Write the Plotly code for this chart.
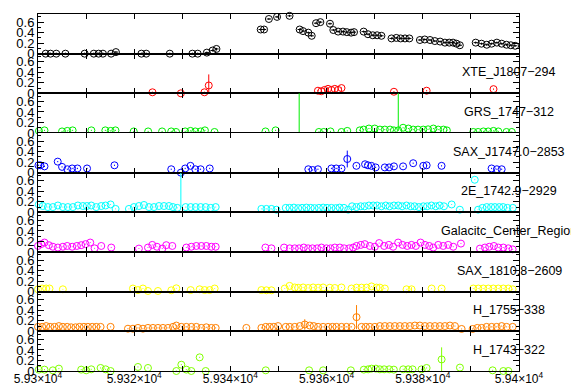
import plotly.graph_objects as go
from plotly.subplots import make_subplots

NAMES = ["", "XTE_J1807−294", "GRS_1747−312", "SAX_J1747.0−2853", "2E_1742.9−2929",
         "Galacitc_Center_Region", "SAX_1810.8−2609", "H_1755−338", "H_1743−322"]
COLORS = ["#000000", "#ff0000", "#00ee00", "#0000ff", "#00ffff",
          "#ff00ff", "#ffff00", "#ff8000", "#80ff00"]

X_TICKS = [59300, 59320, 59340, 59360, 59380, 59400]
X_LABELS = ["5.93×10<sup>4</sup>", "5.932×10<sup>4</sup>", "5.934×10<sup>4</sup>",
            "5.936×10<sup>4</sup>", "5.938×10<sup>4</sup>", "5.94×10<sup>4</sup>"]

# ---------------- series 1 (black)
BLACK_X = [59301.6, 59302.6, 59303.8, 59305.7, 59309.7, 59311.6, 59312.6, 59313.5, 59315.2, 59316.2,
           59321.5, 59322.5, 59327.4, 59332.1, 59333.2, 59335.1, 59336.3, 59337.1,
           59346.3, 59347.0, 59348.0, 59349.7, 59352.3,
           59354.4, 59355.1, 59356.2, 59356.9, 59357.8, 59358.7, 59360.7,
           59361.4, 59362.4, 59363.4, 59364.2, 59365.1, 59365.7,
           59367.7, 59368.6, 59369.6, 59370.5, 59371.4,
           59373.5, 59374.5, 59375.4, 59376.3, 59377.2,
           59379.4, 59380.4, 59381.5, 59382.5, 59383.6, 59384.6, 59385.5, 59386.3, 59387.0, 59387.7,
           59391.0, 59392.2, 59393.3, 59394.3, 59395.4, 59396.4, 59397.4, 59398.3, 59399.2]
BLACK_Y = [0.0, 0.0, 0.0, 0.0, 0.0, 0.0, 0.0, 0.0, 0.0, 0.03,
           0.0, 0.0, 0.0, 0.0, 0.0, 0.02, 0.06, 0.09,
           0.46, 0.46, 0.66, 0.70, 0.72,
           0.46, 0.43, 0.40, 0.34, 0.58, 0.60, 0.57,
           0.45, 0.42, 0.42, 0.41, 0.40, 0.41,
           0.42, 0.37, 0.35, 0.35, 0.34,
           0.29, 0.30, 0.29, 0.29, 0.29,
           0.26, 0.27, 0.26, 0.24, 0.23, 0.21, 0.21, 0.21, 0.19, 0.16,
           0.21, 0.19, 0.17, 0.19, 0.21, 0.19, 0.17, 0.16, 0.15]

# ---------------- series 2 (red)
RED_X = [59323.8, 59329.7, 59334.6, 59358.2, 59358.9, 59359.6, 59360.3, 59361.0, 59361.7,
         59362.4, 59363.1, 59374.0, 59380.8, 59394.7]
RED_Y = [0.02, 0.0, 0.02, 0.05, 0.04, 0.065, 0.085, 0.065, 0.085, 0.065, 0.10, 0.03, 0.05, 0.08]
RED_BIG_X = [59335.5]
RED_BIG_Y = [0.15]
RED_BIG_E = [0.21]

# ---------------- series 3 (green)
GREEN_X = [59300.2, 59301.35, 59305.0, 59306.1, 59307.2, 59311.1, 59314.0, 59315.1, 59316.1, 59319.9,
           59322.9, 59325.8, 59327.7, 59328.7, 59330.6, 59331.7, 59332.7, 59333.8, 59334.7, 59336.7,
           59347.3, 59349.4,
           59358.4, 59359.4, 59360.8, 59363.1, 59364.3, 59366.9, 59367.7, 59368.8, 59370.0, 59371.1,
           59372.1, 59373.2, 59374.0, 59374.9, 59375.9, 59377.0, 59378.0, 59379.0, 59380.1, 59381.1,
           59382.2, 59383.2, 59384.3, 59385.0,
           59390.5, 59391.5, 59392.6, 59393.6, 59394.7, 59395.7, 59397.4, 59398.5]
GREEN_Y = [0.04, 0.05, 0.03, 0.04, 0.05, 0.05, 0.05, 0.04, 0.05, 0.03,
           0.03, 0.03, 0.03, 0.02, 0.03, 0.04, 0.03, 0.03, 0.05, 0.02,
           0.03, 0.05,
           0.02, 0.02, 0.03, 0.02, 0.04, 0.05, 0.065, 0.085, 0.085, 0.065,
           0.065, 0.065, 0.05, 0.05, 0.10, 0.085, 0.065, 0.065, 0.065, 0.07,
           0.085, 0.065, 0.065, 0.05,
           0.02, 0.02, 0.03, 0.03, 0.04, 0.03, 0.02, 0.02]
GREEN_BIG_X = [59354.3, 59374.9]
GREEN_BIG_Y = [0.9, 0.9]
GREEN_BIG_E = [0.9, 0.85]

# ---------------- series 4 (blue)
BLUE_X = [59300.1, 59300.5, 59301.35, 59304.1, 59305.0, 59306.1, 59307.1, 59308.2, 59310.2, 59315.9,
          59327.7, 59329.7, 59330.6, 59331.7, 59332.7, 59333.8, 59335.7,
          59356.2, 59357.1, 59358.2, 59361.0, 59362.0, 59363.1, 59366.2, 59368.0, 59368.6, 59369.3,
          59370.2, 59372.1, 59373.0, 59374.0, 59375.9, 59378.0, 59380.1, 59380.8, 59383.9,
          59394.3, 59395.4, 59396.4]
BLUE_Y = [0.14, 0.14, 0.12, 0.21, 0.11, 0.065, 0.08, 0.08, 0.08, 0.14,
          0.065, 0.0, 0.08, 0.13, 0.065, 0.065, 0.08,
          0.065, 0.05, 0.065, 0.08, 0.08, 0.08, 0.13, 0.16, 0.14, 0.13,
          0.10, 0.10, 0.10, 0.12, 0.12, 0.18, 0.13, 0.14, 0.13,
          0.08, 0.065, 0.065]
BLUE_BIG_X = [59364.3]
BLUE_BIG_Y = [0.26]
BLUE_BIG_E = [0.16]

# ---------------- series 5 (cyan)
CYAN_X = [59300.17, 59301.0, 59302.05, 59303.09, 59304.13, 59305.17, 59306.21, 59307.25, 59308.29, 59309.33,
          59310.16, 59311.07, 59312.11, 59313.15, 59314.05, 59315.09, 59316.13, 59318.9, 59319.94, 59320.98,
          59322.03, 59323.07, 59324.11, 59325.15, 59326.19, 59327.23, 59328.06, 59328.96, 59330.7, 59331.74,
          59332.78, 59333.82, 59334.86, 59335.9, 59336.94, 59346.45, 59347.49, 59348.53, 59349.57, 59351.51,
          59352.3, 59353.2, 59354.1, 59354.9, 59355.8, 59356.7, 59357.5, 59358.4, 59359.3, 59360.1,
          59361.0, 59361.9, 59362.7, 59363.6, 59364.5, 59365.3, 59366.2, 59367.1, 59367.9, 59368.8,
          59369.7, 59370.5, 59371.4, 59372.3, 59373.1, 59374.0, 59374.9, 59375.7, 59376.6, 59377.5,
          59378.3, 59379.2, 59380.1, 59380.9, 59381.8, 59382.7, 59383.5, 59384.4,
          59386.0, 59387.7, 59390.8, 59391.5, 59392.4, 59393.3, 59394.2, 59395.0, 59395.9, 59396.7,
          59397.6, 59398.7]
CYAN_Y = [0.15, 0.12, 0.10, 0.10, 0.13, 0.10, 0.10, 0.10, 0.13, 0.12,
          0.12, 0.13, 0.10, 0.12, 0.13, 0.15, 0.065, 0.065, 0.10, 0.12,
          0.14, 0.10, 0.10, 0.12, 0.12, 0.12, 0.10, 0.085, 0.10, 0.10,
          0.10, 0.10, 0.10, 0.085, 0.10, 0.065, 0.065, 0.065, 0.05, 0.085,
          0.085, 0.09, 0.08, 0.085, 0.09, 0.085, 0.08, 0.085, 0.09, 0.085,
          0.085, 0.08, 0.09, 0.085, 0.05, 0.115, 0.10, 0.115, 0.115, 0.13,
          0.13, 0.13, 0.115, 0.13, 0.115, 0.13, 0.13, 0.115, 0.13, 0.115,
          0.115, 0.10, 0.115, 0.115, 0.13, 0.115, 0.13, 0.115,
          0.15, 0.05, 0.62, 0.05, 0.085, 0.10, 0.10, 0.10, 0.10, 0.10,
          0.085, 0.085]
CYAN_BIG_X = [59329.7]
CYAN_BIG_Y = [0.9]
CYAN_BIG_E = [0.81]

# ---------------- series 6 (magenta)
MAG_X = [59300.0, 59300.66, 59301.35, 59302.25, 59303.09, 59304.13, 59305.17, 59306.07, 59307.11, 59308.08,
         59308.98, 59309.89, 59310.86, 59311.76, 59313.15, 59315.23, 59320.98, 59322.86, 59323.76, 59324.73,
         59325.84, 59326.67, 59327.92, 59329.8, 59330.84, 59331.88, 59332.92, 59333.96, 59335.0, 59336.04,
         59336.94, 59347.28, 59348.53, 59351.16,
         59352.34, 59353.38, 59354.28, 59355.25, 59356.16, 59357.06, 59358.03, 59358.93, 59359.97, 59360.80,
         59361.71, 59362.75, 59363.65, 59364.69, 59365.52, 59366.22, 59367.12, 59367.95, 59368.99, 59370.03,
         59370.93, 59371.97, 59372.94, 59373.84, 59374.88, 59375.79, 59376.76, 59377.66, 59378.56, 59379.53,
         59380.44, 59381.34, 59382.17, 59383.21, 59384.25, 59385.29, 59386.33, 59387.93,
         59391.88, 59392.92, 59393.82, 59394.79, 59395.70, 59396.74, 59397.78, 59398.68]
MAG_Y = [0.115, 0.15, 0.18, 0.13, 0.10, 0.085, 0.10, 0.115, 0.10, 0.115,
         0.13, 0.15, 0.18, 0.07, 0.115, 0.085, 0.065, 0.085, 0.135, 0.10,
         0.065, 0.13, 0.115, -0.01, 0.085, 0.10, 0.115, 0.115, 0.115, 0.10,
         0.10, 0.085, 0.07, 0.085,
         0.07, 0.07, 0.07, 0.085, 0.07, 0.07, 0.07, 0.085, 0.07, 0.07,
         0.085, 0.085, 0.07, 0.07, 0.085, 0.115, 0.135, 0.15, 0.115, 0.10,
         0.17, 0.115, 0.135, 0.10, 0.18, 0.135, 0.115, 0.135, 0.115, 0.18,
         0.135, 0.115, 0.085, 0.135, 0.115, 0.135, 0.10, 0.16,
         0.065, 0.085, 0.10, 0.115, 0.085, 0.085, 0.07, 0.05]

# ---------------- series 7 (yellow)
YEL_X = [59300.0, 59300.87, 59301.7, 59302.39, 59305.17, 59319.74, 59320.78, 59321.82, 59322.86, 59324.94,
         59327.72, 59328.76, 59331.74, 59333.61, 59334.65, 59335.69, 59336.73, 59346.45, 59347.49, 59348.53,
         59351.3, 59352.3,
         59353.38, 59354.08, 59355.12, 59356.16, 59357.20, 59358.24, 59359.28, 59360.67, 59361.71, 59363.09,
         59365.18, 59366.22, 59367.26, 59368.30, 59369.34, 59370.38, 59371.07, 59372.11,
         59376.62, 59381.83, 59383.91,
         59390.50, 59391.54, 59392.58, 59393.62, 59394.66, 59395.70, 59396.74, 59397.78, 59398.68]
YEL_Y = [0.045, 0.06, 0.06, 0.06, 0.045, 0.06, 0.03, 0.06, 0.013, 0.013,
         0.026, 0.064, 0.03, 0.045, 0.03, 0.03, 0.06, 0.03, 0.026, 0.026,
         0.06, 0.11,
         0.08, 0.075, 0.08, 0.07, 0.08, 0.075, 0.08, 0.075, 0.07, 0.08,
         0.06, 0.077, 0.077, 0.077, 0.10, 0.077, 0.077, 0.06,
         0.045, 0.06, 0.06,
         0.06, 0.06, 0.06, 0.06, 0.06, 0.06, 0.06, 0.06, 0.045]
YEL_BIG_X = [59377.66]
YEL_BIG_Y = [0.045]
YEL_BIG_E = [0.04]

# ---------------- series 8 (orange)
ORA_X = [59300.0, 59300.87, 59301.7, 59302.53, 59303.43, 59304.34, 59305.17, 59306.07, 59306.9, 59307.8,
         59308.64, 59309.54, 59310.37, 59311.27, 59312.11, 59313.01, 59315.09, 59318.7, 59319.74, 59320.78,
         59321.82, 59322.86, 59323.9, 59324.94, 59325.98, 59327.02, 59328.06, 59328.76, 59329.8, 59330.84,
         59331.88, 59332.92, 59333.96, 59335.0, 59336.04, 59336.94, 59343.32, 59346.45, 59347.35, 59348.18,
         59349.01, 59349.91, 59351.51,
         59352.34, 59353.38, 59354.42, 59356.50, 59357.33, 59358.24, 59359.28, 59360.32, 59361.22, 59362.06,
         59363.09, 59364.13, 59365.18, 59367.26, 59368.16, 59368.99, 59370.03, 59371.07, 59372.11, 59373.15,
         59374.19, 59375.23, 59376.27, 59377.31, 59378.35, 59379.39, 59380.44, 59381.48, 59382.52, 59383.56,
         59384.60, 59385.64, 59386.68, 59388.07, 59390.36, 59391.33, 59392.23, 59393.27, 59394.31, 59395.35,
         59396.39, 59397.43, 59398.68]
ORA_Y = [0.085, 0.085, 0.10, 0.085, 0.085, 0.10, 0.085, 0.085, 0.077, 0.077,
         0.085, 0.085, 0.085, 0.085, 0.085, 0.085, 0.085, 0.05, 0.05, 0.065,
         0.05, 0.065, 0.065, 0.065, 0.065, 0.065, 0.085, 0.11, 0.085, 0.085,
         0.085, 0.085, 0.065, 0.077, 0.065, 0.065, 0.065, 0.065, 0.085, 0.085,
         0.085, 0.10, 0.085,
         0.085, 0.085, 0.10, 0.11, 0.10, 0.085, 0.085, 0.085, 0.085, 0.085,
         0.085, 0.085, 0.085, 0.085, 0.085, 0.085, 0.085, 0.10, 0.10, 0.10,
         0.10, 0.10, 0.10, 0.10, 0.11, 0.11, 0.10, 0.10, 0.10, 0.10,
         0.10, 0.11, 0.10, 0.045, 0.045, 0.065, 0.065, 0.085, 0.085, 0.085,
         0.10, 0.085, 0.085]
ORA_BIG_X = [59355.46, 59366.22]
ORA_BIG_Y = [0.13, 0.27]
ORA_BIG_E = [0.10, 0.23]

# ---------------- series 9 (chartreuse)
CHA_X = [59300.17, 59301.35, 59303.09, 59304.34, 59308.98, 59310.02, 59311.07, 59313.01, 59314.05, 59315.09,
         59320.78, 59322.86, 59328.76, 59329.8, 59330.84, 59331.88, 59333.61, 59334.86, 59347.35,
         59356.37, 59359.28, 59365.04, 59367.74, 59368.64, 59369.34, 59370.24, 59371.07, 59371.97, 59373.01,
         59373.98, 59375.93, 59376.97, 59377.87, 59379.74, 59380.79, 59387.72, 59394.52, 59396.74, 59397.78]
CHA_Y = [0.026, 0.026, 0.013, 0.045, 0.026, 0.013, 0.032, 0.058, 0.032, 0.0,
         0.077, 0.058, 0.0, 0.12, 0.026, 0.0, 0.26, 0.0, 0.013,
         0.013, 0.013, 0.013, 0.026, 0.032, 0.045, 0.045, 0.032, 0.032, 0.032,
         0.026, 0.032, 0.032, 0.032, 0.032, 0.058, 0.065, 0.013, 0.0, 0.0]
CHA_BIG_X = [59383.91]
CHA_BIG_Y = [0.22]
CHA_BIG_E = [0.23]

SERIES = [
    (BLACK_X, BLACK_Y, [], [], []),
    (RED_X, RED_Y, RED_BIG_X, RED_BIG_Y, RED_BIG_E),
    (GREEN_X, GREEN_Y, GREEN_BIG_X, GREEN_BIG_Y, GREEN_BIG_E),
    (BLUE_X, BLUE_Y, BLUE_BIG_X, BLUE_BIG_Y, BLUE_BIG_E),
    (CYAN_X, CYAN_Y, CYAN_BIG_X, CYAN_BIG_Y, CYAN_BIG_E),
    (MAG_X, MAG_Y, [], [], []),
    (YEL_X, YEL_Y, YEL_BIG_X, YEL_BIG_Y, YEL_BIG_E),
    (ORA_X, ORA_Y, ORA_BIG_X, ORA_BIG_Y, ORA_BIG_E),
    (CHA_X, CHA_Y, CHA_BIG_X, CHA_BIG_Y, CHA_BIG_E),
]
SMALL_ERR = [0.02, 0.012, 0.01, 0.012, 0.008, 0.008, 0.008, 0.01, 0.01]

FONT = "Liberation Sans"
N = len(SERIES)
fig = make_subplots(rows=N, cols=1, shared_xaxes=True, vertical_spacing=0)

for i, (xs, ys, bx, by, be) in enumerate(SERIES):
    c = COLORS[i]
    kw = {}
    if i == 0:
        kw["error_x"] = dict(type="constant", value=0.45, color=c, thickness=1, width=0)
    fig.add_trace(go.Scatter(
        x=xs, y=ys, mode="markers", cliponaxis=False,
        marker=dict(symbol="circle-open", size=7, color=c, line=dict(width=1, color=c)),
        error_y=dict(type="constant", value=SMALL_ERR[i], color=c, thickness=1, width=0),
        **kw,
    ), row=i + 1, col=1)
    if bx:
        fig.add_trace(go.Scatter(
            x=bx, y=by, mode="markers", cliponaxis=True,
            marker=dict(symbol="circle-open", size=7, color=c, line=dict(width=1, color=c)),
            error_y=dict(type="data", array=be, color=c, thickness=1, width=0),
        ), row=i + 1, col=1)

for i in range(1, N + 1):
    fig.update_yaxes(row=i, col=1, range=[0, 0.755], tickmode="linear", tick0=0, dtick=0.2,
                     ticks="inside", ticklen=6, tickwidth=1, tickcolor="black",
                     minor=dict(tickmode="linear", tick0=0, dtick=0.1, ticks="inside",
                                ticklen=3, tickcolor="black", showgrid=False),
                     showline=True, linecolor="black", linewidth=1, mirror="ticks",
                     showgrid=False, zeroline=False, automargin=False,
                     tickfont=dict(family=FONT, size=13, color="black"))
    fig.update_xaxes(row=i, col=1, range=[59300, 59400], tickmode="array",
                     tickvals=X_TICKS, ticktext=X_LABELS,
                     ticks="inside", ticklen=5, tickwidth=1, tickcolor="black",
                     minor=dict(tickmode="linear", tick0=59300, dtick=10, ticks="inside",
                                ticklen=5, tickcolor="black", showgrid=False),
                     showline=True, linecolor="black", linewidth=1, mirror="ticks",
                     showgrid=False, zeroline=False, showticklabels=(i == N), automargin=False,
                     ticklabelstandoff=-3,
                     tickfont=dict(family=FONT, size=12, color="black"))

for i in range(1, N):
    fig.add_annotation(text=NAMES[i], xref="paper", x=0.98, xanchor="center",
                       yref=f"y{i + 1} domain", y=0.53, yanchor="middle",
                       showarrow=False, font=dict(family=FONT, size=12.5, color="black"))

# page body adds an 8px offset, so size/margins are reduced accordingly
fig.update_layout(template="none", width=571, height=379, margin=dict(l=30, r=60, t=6, b=16),
                  paper_bgcolor="white", plot_bgcolor="white", showlegend=False)

fig.write_html("out.html")
